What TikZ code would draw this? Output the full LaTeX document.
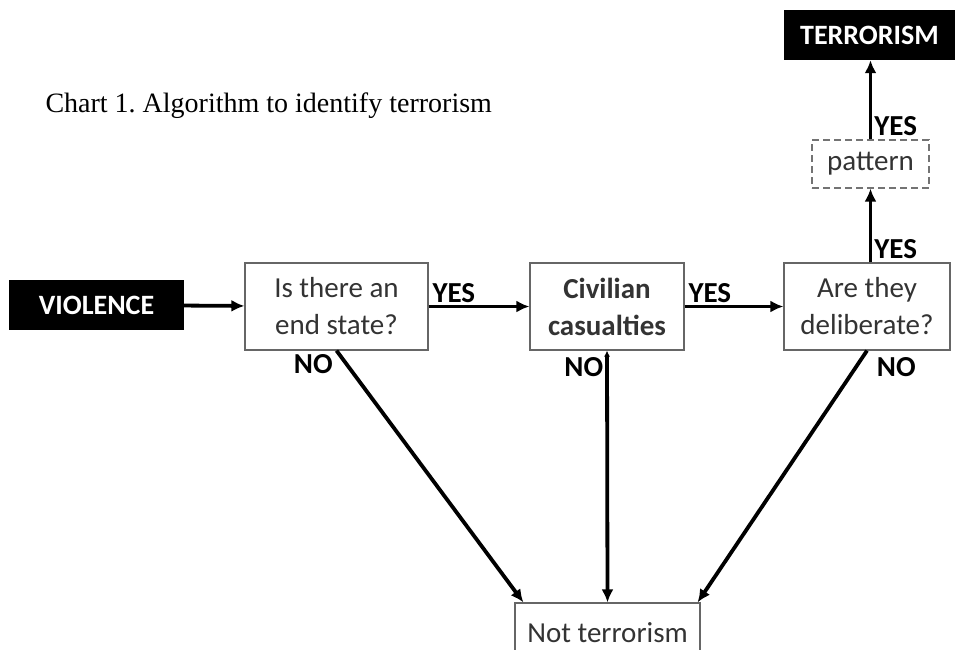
\documentclass[tikz,border=0pt]{standalone}
\usepackage{fontspec}
\setmainfont{Carlito}
\newfontfamily\titlefont{Liberation Serif}
\usetikzlibrary{arrows.meta}

\begin{document}
\begin{tikzpicture}
				[
					x = 1pt, y = -1pt,
					box/.style = {draw = black!60, line width = 1.2pt, align = center, text = black!80,
						font = \fontsize{29}{37}\selectfont, inner sep = 0pt},
					blackbox/.style = {fill = black, text = white, font = \fontsize{28}{30}\selectfont\bfseries,
						inner sep = 0pt},
					dashbox/.style = {box, dash pattern = on 7pt off 4pt, draw = black!55, font = \fontsize{29}{32}\selectfont},
					arrow/.style = {line width = 3.8pt, -{Latex[length = 13pt, width = 12pt]}},
					answer/.style = {font = \fontsize{29}{30}\selectfont\bfseries, inner sep = 2pt}
				]
				\useasboundingbox (0,0) rectangle (955,649);
				\node[anchor = base west, font = \titlefont\fontsize{28}{32}\selectfont] (title) at (42,112)
					{Chart 1.\ Algorithm to identify terrorism};
				\node[blackbox, minimum width = 175, minimum height = 50] (violence) at (96.5,305) {VIOLENCE};
				\node[box, minimum width = 183, minimum height = 87] (endstate) at (336.5,306.5)
					{Is there an\\end state?};
				\node[box, minimum width = 154, minimum height = 87, font = \fontsize{29}{37}\selectfont\bfseries] (civil)
					at (607,306.5) {Civilian\\casualties};
				\node[box, minimum width = 166, minimum height = 87] (delib) at (867,306.5)
					{Are they\\deliberate?};
				\node[dashbox, minimum width = 117, minimum height = 48] (pattern) at (870.5,164) {pattern};
				\node[blackbox, minimum width = 172, minimum height = 50] (terror) at (869.5,35) {TERRORISM};
				\node[box, minimum width = 185, minimum height = 60] (notterr) at (607.5,633) {Not terrorism};

				\draw[arrow] (violence) -- (endstate);
				\draw[arrow] (endstate) -- node[answer, pos = 0, anchor = south west]{YES} (civil);
				\draw[arrow] (civil) -- node[answer, pos = 0, anchor = south west]{YES} (delib);
				\draw[arrow] (delib.north -| pattern) -- node[answer, pos = 0, anchor = south west]{YES} (pattern);
				\draw[arrow] (pattern) -- node[answer, pos = 0, anchor = south west]{YES} (terror.south -| pattern);
				\draw[arrow] (endstate.south) -- node[answer, pos = 0, anchor = north east]{NO}
					([xshift = 9]notterr.north west);
				\draw[line width = 3.8pt, {Latex[length = 6pt, width = 6pt]}-{Latex[length = 13pt, width = 12pt]}]
					(civil.south) -- node[answer, pos = 0, anchor = north east, yshift = -3]{NO} (notterr.north);
				\draw[arrow] (delib.south) -- node[answer, pos = 0, anchor = north west, xshift = 6, yshift = -3]{NO}
					([xshift = -3]notterr.north east);
		\end{tikzpicture}
\end{document}
